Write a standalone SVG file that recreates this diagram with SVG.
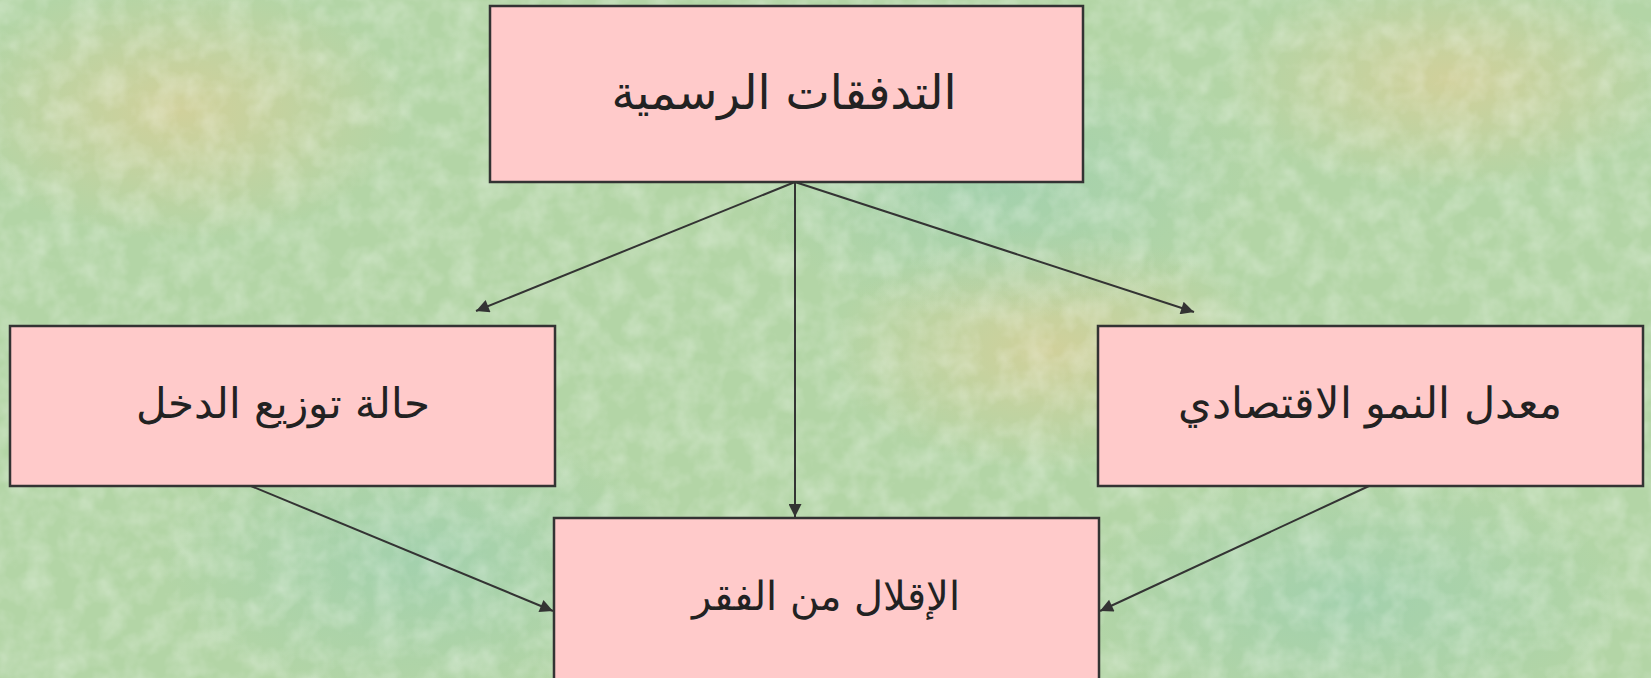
<svg xmlns="http://www.w3.org/2000/svg" width="1651" height="678" viewBox="0 0 1651 678">
<defs>
<style>
.box{fill:#ffcaca;stroke:#333;stroke-width:2.5}
.t{fill:#222;text-anchor:middle;direction:rtl}
.sans{font-family:"DejaVu Sans","Noto Sans",sans-serif}
.serif{font-family:"DejaVu Serif","Liberation Serif",serif}
.c{stroke:#333;stroke-width:2;fill:none;marker-end:url(#ah)}
</style>
<marker id="ah" viewBox="0 0 10 10" refX="10" refY="5" markerWidth="15" markerHeight="13" markerUnits="userSpaceOnUse" orient="auto"><path d="M0,0 L10,5 L0,10 z" fill="#333"/></marker>
<filter id="tex" x="0" y="0" width="100%" height="100%">
<feTurbulence type="fractalNoise" baseFrequency="0.04" numOctaves="3" seed="4" result="n"/>
<feColorMatrix in="n" type="matrix" values="0 0 0 0 1  0 0 0 0 1  0 0 0 0 1  1.4 0 0 0 -0.5" result="w"/>
<feComposite in="w" in2="SourceGraphic" operator="in"/>
</filter>
<radialGradient id="p1" cx="0.5" cy="0.5" r="0.5"><stop offset="0" stop-color="#d8cf98" stop-opacity="0.8"/><stop offset="1" stop-color="#d8cf98" stop-opacity="0"/></radialGradient>
<radialGradient id="p2" cx="0.5" cy="0.5" r="0.5"><stop offset="0" stop-color="#9ccfb0" stop-opacity="0.7"/><stop offset="1" stop-color="#9ccfb0" stop-opacity="0"/></radialGradient>
</defs>
<rect width="1651" height="678" fill="#b3d5a6"/>
<ellipse cx="180" cy="110" rx="230" ry="130" fill="url(#p1)"/>
<ellipse cx="1450" cy="80" rx="230" ry="110" fill="url(#p1)"/>
<ellipse cx="1050" cy="350" rx="220" ry="120" fill="url(#p1)"/>
<ellipse cx="420" cy="560" rx="260" ry="140" fill="url(#p2)"/>
<ellipse cx="1000" cy="180" rx="260" ry="140" fill="url(#p2)"/>
<ellipse cx="1350" cy="600" rx="280" ry="130" fill="url(#p2)"/>
<rect width="1651" height="678" fill="#ffffff" filter="url(#tex)" opacity="0.4"/>
<g id="connectors">
<line class="c" x1="795" y1="182" x2="476" y2="311"/>
<line class="c" x1="795" y1="182" x2="1194" y2="312"/>
<line class="c" x1="795" y1="182" x2="795" y2="517"/>
<line class="c" x1="251" y1="486" x2="553" y2="611"/>
<line class="c" x1="1369" y1="486" x2="1100" y2="611"/>
</g>
<g id="n-top">
<rect class="box" x="490" y="6" width="593" height="176"/>
<text class="t sans" x="784" y="109" font-size="47">التدفقات الرسمية</text>
</g>
<g id="n-left">
<rect class="box" x="10" y="326" width="545" height="160"/>
<text class="t serif" x="283" y="418" font-size="42">حالة توزيع الدخل</text>
</g>
<g id="n-right">
<rect class="box" x="1098" y="326" width="545" height="160"/>
<text class="t serif" x="1370" y="418" font-size="43">معدل النمو الاقتصادي</text>
</g>
<g id="n-bottom">
<rect class="box" x="554" y="518" width="545" height="170"/>
<text class="t serif" x="826" y="610" font-size="40">الإقلال من الفقر</text>
</g>
</svg>
